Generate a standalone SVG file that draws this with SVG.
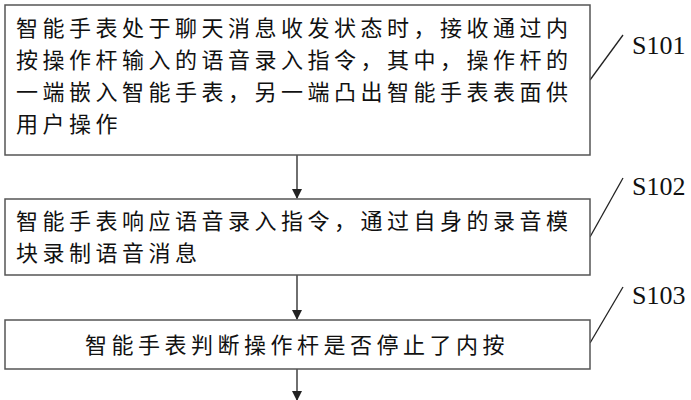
<svg xmlns="http://www.w3.org/2000/svg" width="691" height="400" viewBox="0 0 691 400">
<style>
rect{fill:#fff;stroke:#555;stroke-width:1.5}
.t{font-family:"Liberation Serif","Noto Sans CJK SC",serif;font-size:22px;letter-spacing:4.5px;fill:#111}
.l{font-family:"Liberation Serif",serif;font-size:26px;fill:#111}
line{stroke:#222;stroke-width:1.3}
</style>
<defs><marker id="a" markerWidth="10" markerHeight="10" refX="9" refY="5" orient="auto" markerUnits="userSpaceOnUse"><path d="M0,0L10,5L0,10z" fill="#222"/></marker></defs>
<rect width="691" height="400" fill="#fff" style="stroke:none"/>
<g id="connectors">
<line x1="297" y1="155" x2="297" y2="198" marker-end="url(#a)"/>
<line x1="297" y1="275" x2="297" y2="319" marker-end="url(#a)"/>
<line x1="297" y1="369" x2="297" y2="400" marker-end="url(#a)"/>
<line x1="590" y1="80" x2="623" y2="35"/>
<line x1="590" y1="237" x2="623" y2="178"/>
<line x1="590" y1="343" x2="623" y2="287"/>
</g>
<g id="s101"><rect x="5" y="5" width="585" height="150"/>
<text class="t" x="16" y="36">智能手表处于聊天消息收发状态时，接收通过内</text>
<text class="t" x="16" y="68">按操作杆输入的语音录入指令，其中，操作杆的</text>
<text class="t" x="16" y="100">一端嵌入智能手表，另一端凸出智能手表表面供</text>
<text class="t" x="16" y="132">用户操作</text>
<text class="l" x="632" y="54">S101</text></g>
<g id="s102"><rect x="5" y="199" width="585" height="76"/>
<text class="t" x="16" y="229">智能手表响应语音录入指令，通过自身的录音模</text>
<text class="t" x="16" y="261">块录制语音消息</text>
<text class="l" x="632" y="195">S102</text></g>
<g id="s103"><rect x="5" y="320" width="585" height="49"/>
<text class="t" x="85" y="353">智能手表判断操作杆是否停止了内按</text>
<text class="l" x="632" y="304">S103</text></g>
</svg>
